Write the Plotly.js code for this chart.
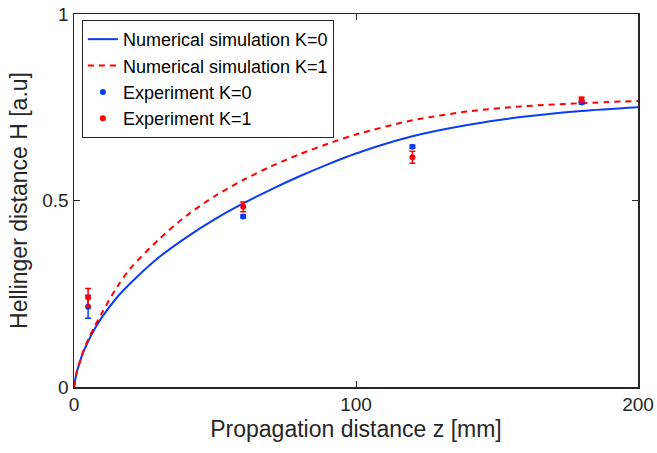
<!DOCTYPE html>
<html><head><meta charset="utf-8">
<script src="https://cdn.plot.ly/plotly-3.0.1.min.js"></script>
<style>html,body{margin:0;padding:0;background:#fff;}#plot{width:657px;height:453px;}</style>
</head><body><div id="plot"></div>
<script>
const simZ = [0, 1, 2, 3, 5, 7.5, 10, 15, 20, 30, 40, 50, 60, 70, 80, 90, 100, 120, 140, 160, 180, 200];
const simK0 = [0, 0.04, 0.065, 0.088, 0.122, 0.158, 0.188, 0.238, 0.278, 0.347, 0.402, 0.45, 0.492, 0.53, 0.565, 0.597, 0.626, 0.672, 0.703, 0.725, 0.74, 0.75];
const simK1 = [0, 0.04, 0.066, 0.09, 0.127, 0.165, 0.2, 0.265, 0.318, 0.395, 0.46, 0.512, 0.555, 0.592, 0.624, 0.652, 0.677, 0.715, 0.739, 0.753, 0.761, 0.767];
const expZ = [5, 60, 120, 180];
const expK0 = [0.215, 0.457, 0.644, 0.763];
const errK0 = [0.031, 0.004, 0.004, 0.004];
const expK1 = [0.24, 0.483, 0.616, 0.771];
const errK1 = [0.024, 0.013, 0.016, 0.006];
const names = ['Numerical simulation K=0', 'Numerical simulation K=1', 'Experiment K=0', 'Experiment K=1'];

const blue = '#0a3cf5', red = '#ff0000';
const FONT = 'Liberation Sans, Arial, sans-serif';
const data = [
  {x: simZ, y: simK0, mode: 'lines', name: names[0], line: {color: blue, width: 2, shape: 'spline', smoothing: 0.8}},
  {x: simZ, y: simK1, mode: 'lines', name: names[1], line: {color: red, width: 2, dash: '6px,5px', shape: 'spline', smoothing: 0.8}},
  {x: expZ, y: expK0, mode: 'markers', name: names[2], marker: {color: blue, size: 6, symbol: 'circle'},
   error_y: {type: 'data', array: errK0, visible: true, color: blue, thickness: 1.5, width: 3}},
  {x: expZ, y: expK1, mode: 'markers', name: names[3], marker: {color: red, size: 6, symbol: 'circle'},
   error_y: {type: 'data', array: errK1, visible: true, color: red, thickness: 1.5, width: 3}}
];
const axisCommon = {
  showgrid: false, zeroline: false, showline: true, mirror: 'ticks', linecolor: '#262626', linewidth: 1.5,
  ticks: 'inside', ticklen: 6, tickcolor: '#262626', tickwidth: 1,
  tickfont: {family: FONT, size: 19, color: '#262626'}
};
const layout = {
  width: 657, height: 453,
  margin: {l: 74, r: 19, t: 14, b: 66},
  paper_bgcolor: '#fff', plot_bgcolor: '#fff',
  showlegend: true,
  legend: {x: 0.014, y: 0.984, xanchor: 'left', yanchor: 'top', bgcolor: '#fff', bordercolor: '#262626', borderwidth: 1,
           font: {family: FONT, size: 18, color: '#000'}, tracegroupgap: 0, itemwidth: 30},
  xaxis: Object.assign({}, axisCommon, {range: [0, 200], tickvals: [0, 100, 200],
    title: {text: 'Propagation distance z [mm]', standoff: 6, font: {family: FONT, size: 23, color: '#262626'}}}),
  yaxis: Object.assign({}, axisCommon, {range: [0, 1], tickvals: [0, 0.5, 1], ticktext: ['0', '0.5', '1'],
    title: {text: 'Hellinger distance H [a.u]', standoff: 8, font: {family: FONT, size: 23, color: '#262626'}}})
};
Plotly.newPlot('plot', data, layout, {displayModeBar: false, staticPlot: true});
</script></body></html>
